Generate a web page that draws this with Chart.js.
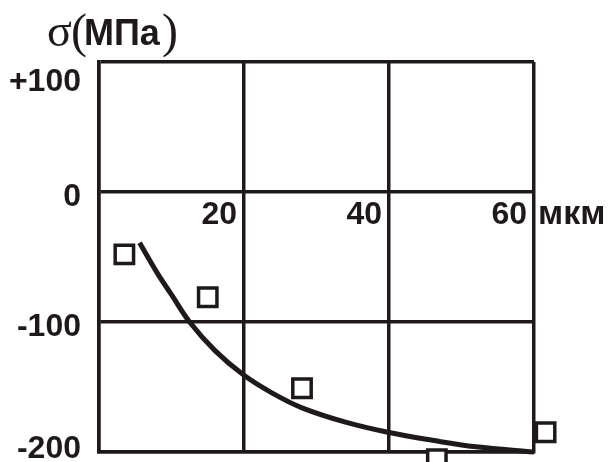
<!DOCTYPE html>
<html>
<head>
<meta charset="utf-8">
<script src="https://cdn.jsdelivr.net/npm/chart.js@4"></script>
<style>
html, body { margin: 0; padding: 0; background: #fff; }
canvas { display: block; }
</style>
</head>
<body>
<canvas id="chart" width="608" height="462"></canvas>
<script>
// tick values and labels
let xTicks = [20, 40, 60];
let xTickLabels = ["20", "40", "60"];
let xUnit = "мкм";
let yTicks = [100, 0, -100, -200];
let yTickLabels = ["+100", "0", "-100", "-200"];

// measured points (squares)
let measuredX = [3.5, 15, 28, 46.6, 61.6];
let measuredY = [-48, -81, -151, -205.6, -184.8];

// fitted curve
let curveX = [5.6, 8, 10, 12.5, 16, 20, 24, 28, 34, 40, 46, 52, 60];
let curveY = [-39, -62, -79, -100, -122, -141, -155, -166, -177, -185, -191, -196, -200];

let ink = "#1e1a1b";

function toPoints(xs, ys) {
    let pts = [];
    for (let i = 0; i < xs.length; i++) {
        pts.push({ x: xs[i], y: ys[i] });
    }
    return pts;
}

let labelsPlugin = {
    id: "labels",
    afterDraw: function(chart) {
        let ctx = chart.ctx;
        let xs = chart.scales.x;
        let ys = chart.scales.y;
        let area = chart.chartArea;

        ctx.save();
        ctx.fillStyle = ink;
        ctx.textBaseline = "alphabetic";

        // y labels
        ctx.font = "bold 32px 'Liberation Sans', Arial, sans-serif";
        ctx.textAlign = "right";
        for (let i = 0; i < yTicks.length; i++) {
            let py = ys.getPixelForValue(yTicks[i]) + 14;
            if (py < area.top + 29) py = area.top + 29;
            if (py > area.bottom + 6) py = area.bottom + 6;
            ctx.fillText(yTickLabels[i], area.left - 18, py);
        }

        // x labels under the zero line
        let zeroY = ys.getPixelForValue(0);
        for (let i = 0; i < xTicks.length; i++) {
            ctx.fillText(xTickLabels[i], xs.getPixelForValue(xTicks[i]) - 7, zeroY + 32);
        }
        ctx.textAlign = "left";
        ctx.font = "bold 34px 'Liberation Sans', Arial, sans-serif";
        ctx.fillText(xUnit, area.right + 4, zeroY + 32);

        // axis title  σ(МПа)
        ctx.font = "46px 'Liberation Serif', 'Times New Roman', serif";
        ctx.fillText("σ", 47, 46);
        ctx.font = "48px 'Liberation Serif', 'Times New Roman', serif";
        ctx.fillText("(", 71, 47);
        ctx.fillText(")", 162, 47);
        ctx.font = "bold 36px 'Liberation Sans', Arial, sans-serif";
        ctx.fillText("МПа", 84, 45);

        ctx.restore();
    }
};

new Chart(document.getElementById("chart"), {
    type: "scatter",
    data: {
        datasets: [{
            label: "измерения",
            data: toPoints(measuredX, measuredY),
            pointStyle: "rect",
            pointRadius: 13,
            pointHoverRadius: 13,
            pointBackgroundColor: "#fff",
            pointBorderColor: ink,
            pointBorderWidth: 3.5,
            clip: false,
            order: 0
        }, {
            label: "кривая",
            data: toPoints(curveX, curveY),
            showLine: true,
            borderColor: ink,
            borderWidth: 5,
            pointRadius: 0,
            tension: 0.4,
            clip: false,
            order: 1
        }]
    },
    options: {
        responsive: false,
        animation: false,
        devicePixelRatio: 1,
        layout: {
            autoPadding: false,
            padding: { left: 99, right: 74, top: 62, bottom: 10 }
        },
        plugins: {
            legend: { display: false },
            tooltip: { enabled: false }
        },
        scales: {
            x: {
                type: "linear",
                min: 0,
                max: 60,
                ticks: { stepSize: 20, display: false },
                grid: { color: ink, lineWidth: 3.5, drawTicks: false },
                border: { color: ink, width: 3.5 }
            },
            y: {
                type: "linear",
                min: -200,
                max: 100,
                ticks: { stepSize: 100, display: false },
                grid: { color: ink, lineWidth: 3.5, drawTicks: false },
                border: { color: ink, width: 3.5 }
            }
        }
    },
    plugins: [labelsPlugin]
});
</script>
</body>
</html>
